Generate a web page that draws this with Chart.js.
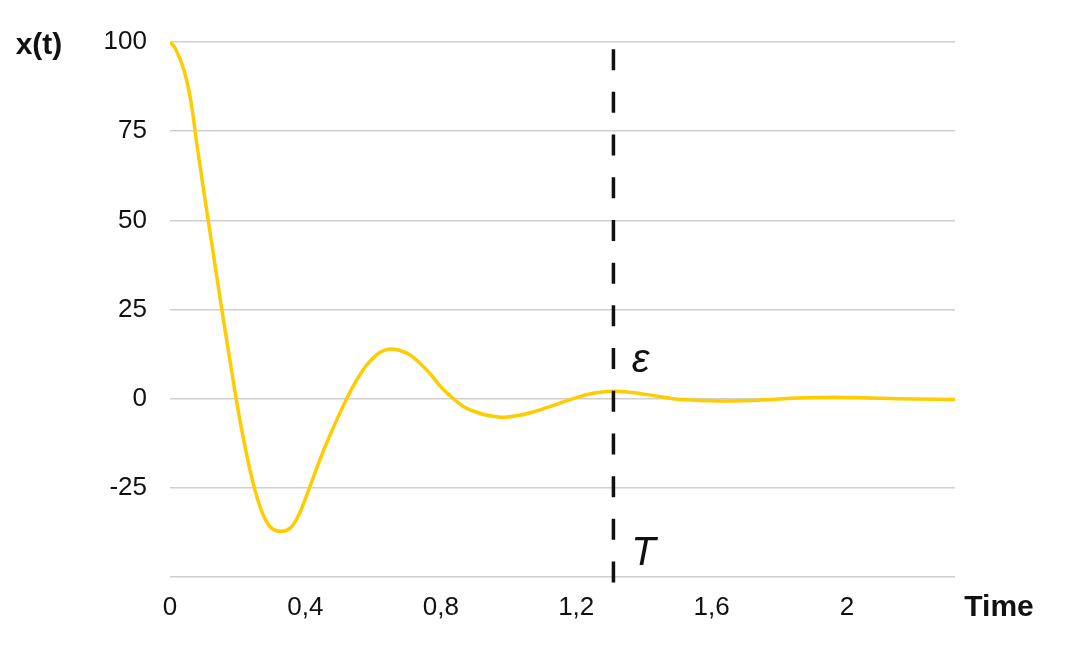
<!DOCTYPE html>
<html>
<head>
<meta charset="utf-8">
<script src="https://cdn.jsdelivr.net/npm/chart.js@4.4.1/dist/chart.umd.min.js"></script>
<style>
  html, body { margin: 0; padding: 0; background: #fff; }
  #wrap { width: 1080px; height: 650px; position: relative; }
</style>
</head>
<body>
<div id="wrap"><canvas id="respChart"></canvas></div>
<script>
// time values (s) and response x(t)
const timeValues = [0, 0.015, 0.04, 0.06, 0.08, 0.1, 0.125, 0.15, 0.175, 0.2, 0.225, 0.25, 0.275, 0.3,
    0.328, 0.355, 0.38, 0.41, 0.44, 0.47, 0.5, 0.522, 0.55, 0.58, 0.61, 0.635, 0.657, 0.68, 0.71,
    0.74, 0.77, 0.8, 0.837, 0.87, 0.9, 0.93, 0.96, 0.99, 1.03, 1.07, 1.11, 1.15, 1.191, 1.23,
    1.27, 1.31, 1.35, 1.39, 1.44, 1.486, 1.54, 1.6, 1.66, 1.72, 1.78, 1.84, 1.9, 1.96, 2.03,
    2.1, 2.2, 2.319];
const responseValues = [100, 98.3, 92.5, 84.3, 71, 58, 42.5, 26.9, 12, -2.5, -15, -25.3, -32.5, -36.3,
    -37.2, -36.3, -32.7, -25.5, -17.8, -10.8, -4.4, 0, 5, 9.3, 12.3, 13.6, 13.9, 13.5, 12.2,
    9.8, 6.8, 3.3, 0, -2.4, -3.6, -4.5, -5, -5.2, -4.7, -3.8, -2.6, -1.3, 0, 1.1,
    1.8, 2.1, 1.9, 1.4, 0.7, 0, -0.4, -0.6, -0.65, -0.5, -0.2, 0.1, 0.3, 0.4, 0.3,
    0.1, -0.1, -0.2];

const xTicks = [0, 0.4, 0.8, 1.2, 1.6, 2];
const yTicks = [-50, -25, 0, 25, 50, 75, 100];

// settling time marker
const settleTime = 1.31;
const markerTop = 98;
const markerBottom = -51.6;

const notes = [
    { text: 'ε', t: 1.39, v: 10.5 },
    { text: 'T', t: 1.399, v: -43.4 }
];

const lineData = timeValues.map((t, i) => ({ x: t, y: responseValues[i] }));

const labelsPlugin = {
    id: 'labelsPlugin',
    afterDraw(chart) {
        const ctx = chart.ctx;
        const xs = chart.scales.x, ys = chart.scales.y;
        ctx.save();
        ctx.fillStyle = '#111';
        ctx.textBaseline = 'middle';
        ctx.textAlign = 'center';
        ctx.font = 'bold 30px "Liberation Sans", Arial, sans-serif';
        ctx.fillText('x(t)', 39, 46);
        ctx.fillText('Time', 999, 608);
        ctx.font = 'italic 40px "Liberation Sans", Arial, sans-serif';
        notes.forEach(n => {
            ctx.fillText(n.text, xs.getPixelForValue(n.t), ys.getPixelForValue(n.v));
        });
        ctx.restore();
    }
};

new Chart(document.getElementById('respChart').getContext('2d'), {
    type: 'line',
    data: {
        datasets: [{
            data: [{ x: settleTime, y: markerTop }, { x: settleTime, y: markerBottom }],
            borderColor: '#111',
            borderWidth: 3.5,
            borderDash: [21, 21.7],
            pointRadius: 0,
            clip: false,
            order: 0
        }, {
            data: lineData,
            borderColor: '#FFCC00',
            borderWidth: 3.5,
            pointRadius: 0,
            tension: 0.4,
            order: 1
        }]
    },
    options: {
        responsive: true,
        maintainAspectRatio: false,
        animation: false,
        layout: { padding: { left: 0, right: 125, top: 42, bottom: 0 } },
        plugins: { legend: { display: false }, tooltip: { enabled: false } },
        scales: {
            x: {
                type: 'linear',
                min: 0,
                max: 2.319,
                afterBuildTicks: s => { s.ticks = xTicks.map(v => ({ value: v })); },
                afterFit: s => { s.height = 73; },
                grid: { display: false, drawTicks: false },
                border: { display: false },
                ticks: {
                    padding: 15,
                    color: '#111',
                    font: { family: '"Liberation Sans", Arial, sans-serif', size: 26 },
                    callback: v => String(v).replace('.', ',')
                }
            },
            y: {
                min: -50,
                max: 100,
                afterBuildTicks: s => { s.ticks = yTicks.map(v => ({ value: v })); },
                afterFit: s => { s.width = 170; },
                grid: { color: '#cfcfcf', lineWidth: 1.5, drawTicks: false },
                border: { display: false },
                ticks: {
                    padding: 23,
                    color: '#111',
                    font: { family: '"Liberation Sans", Arial, sans-serif', size: 26 },
                    callback: v => v === -50 ? '' : v
                }
            }
        }
    },
    plugins: [labelsPlugin]
});
</script>
</body>
</html>
